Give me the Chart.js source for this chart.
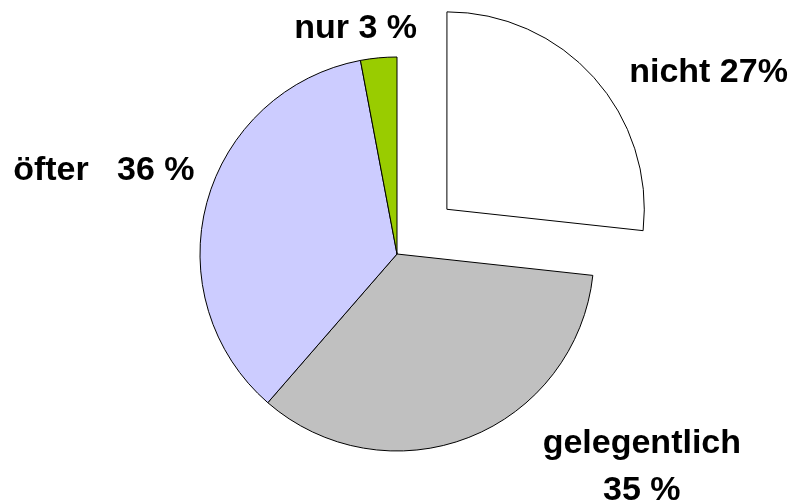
<!DOCTYPE html>
<html>
<head>
<meta charset="utf-8">
<title>Pie</title>
<script src="https://cdn.jsdelivr.net/npm/chart.js@4/dist/chart.umd.min.js"></script>
<style>
  html, body { margin: 0; padding: 0; background: #fff; }
  #wrap { width: 793px; height: 504px; position: relative; }
</style>
</head>
<body>
<div id="wrap"><canvas id="pie"></canvas></div>
<script>
/* ── data ── */
const categories = ['nicht', 'gelegentlich', 'öfter', 'nur'];
const values     = [27, 35, 36, 3];
const labelText  = [['nicht 27%'], ['gelegentlich', '35 %'], ['öfter   36 %'], ['nur 3 %']];

/* ── look ── */
const colors     = ['#ffffff', '#c0c0c0', '#ccccff', '#99cc00'];
const explode    = [268, 0, 0, 0];          // chart.js moves a slice by offset/4
const labelShift = [[115, 4], [173, 16], [-103, -23], [-23, -20]];

// label text placed relative to the outer edge of each slice
const sliceLabels = {
  id: 'sliceLabels',
  afterDatasetsDraw(chart) {
    const ctx = chart.ctx;
    const arcs = chart.getDatasetMeta(0).data;
    ctx.save();
    ctx.font = 'bold 34px "Liberation Sans", Arial, sans-serif';
    ctx.fillStyle = '#000';
    ctx.textAlign = 'center';
    ctx.textBaseline = 'alphabetic';
    arcs.forEach((arc, i) => {
      const p = arc.getProps(['x', 'y', 'startAngle', 'endAngle', 'outerRadius'], true);
      const mid = (p.startAngle + p.endAngle) / 2;
      const r = p.outerRadius + explode[i] / 4;
      const ex = p.x + Math.cos(mid) * r + labelShift[i][0];
      const ey = p.y + Math.sin(mid) * r + labelShift[i][1];
      labelText[i].forEach((line, j) => ctx.fillText(line, ex, ey + j * 47));
    });
    ctx.restore();
  }
};

new Chart(document.getElementById('pie').getContext('2d'), {
  type: 'pie',
  data: {
    labels: categories,
    datasets: [{
      data: values,
      backgroundColor: colors,
      borderColor: '#000',
      borderWidth: 1,
      offset: explode,
      hoverOffset: 0
    }]
  },
  options: {
    responsive: true,
    maintainAspectRatio: false,
    animation: false,
    radius: 197,
    layout: { padding: { left: 1, top: 4 } },
    plugins: {
      legend: { display: false },
      tooltip: { enabled: false }
    }
  },
  plugins: [sliceLabels]
});
</script>
</body>
</html>
